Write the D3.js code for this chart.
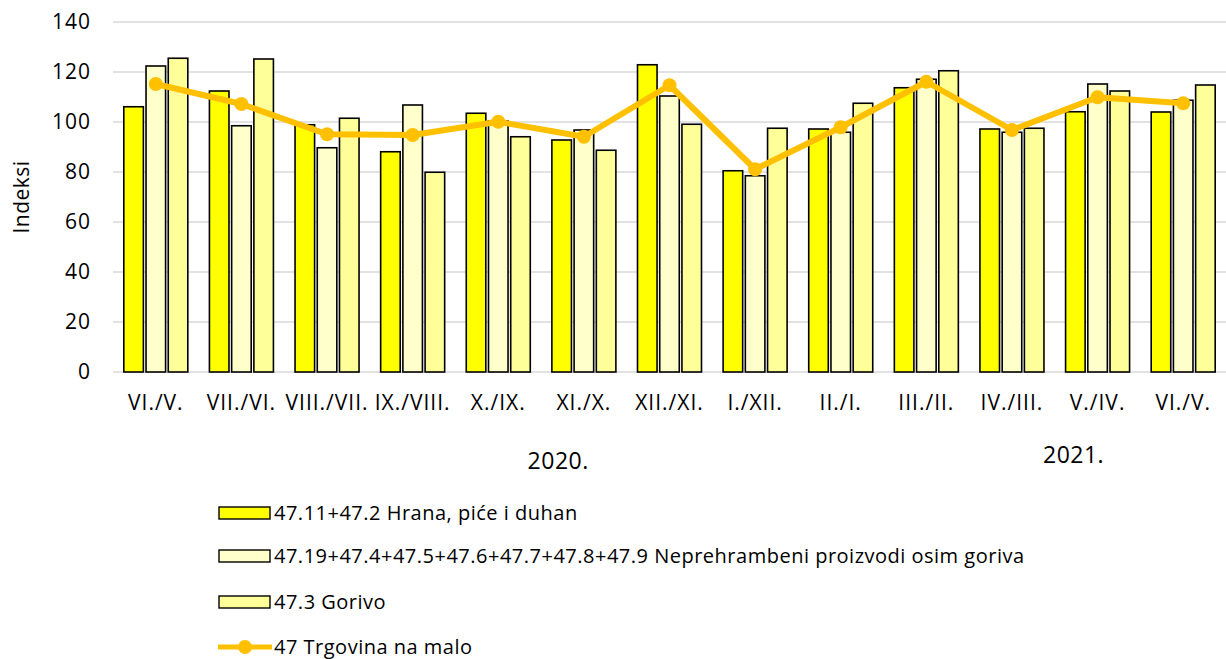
<!DOCTYPE html>
<html>
<head>
<meta charset="utf-8">
<script src="https://cdn.jsdelivr.net/npm/d3@7"></script>
<style>
  body { margin: 0; background: #fff; }
  text { font-family: "Open Sans", sans-serif; fill: #000; }
</style>
</head>
<body>
<div id="chart"></div>
<script>
// chart data
var categories = ['VI./V.', 'VII./VI.', 'VIII./VII.', 'IX./VIII.', 'X./IX.', 'XI./X.', 'XII./XI.',
                  'I./XII.', 'II./I.', 'III./II.', 'IV./III.', 'V./IV.', 'VI./V.'];
var hrana = [106.1, 112.4, 98.9, 88.1, 103.5, 92.8, 122.9, 80.5, 97.2, 113.7, 97.2, 104.1, 104.0];
var neprehrambeni = [122.4, 98.5, 89.7, 106.8, 100.5, 96.8, 110.4, 78.5, 95.9, 117.1, 95.9, 115.2, 108.7];
var gorivo = [125.5, 125.2, 101.5, 79.9, 94.1, 88.7, 99.1, 97.5, 107.5, 120.5, 97.5, 112.4, 114.8];
var trgovina = [115.2, 107.2, 95.1, 94.8, 100.1, 94.1, 114.7, 81.1, 97.9, 116.1, 96.8, 109.9, 107.5];
var yTicks = [0, 20, 40, 60, 80, 100, 120, 140];
var years = [{label: '2020.', at: 5.2, dy: 97}, {label: '2021.', at: 11.22, dy: 91}];

var seriesNames = ['47.11+47.2 Hrana, piće i duhan',
                   '47.19+47.4+47.5+47.6+47.7+47.8+47.9 Neprehrambeni proizvodi osim goriva',
                   '47.3 Gorivo',
                   '47 Trgovina na malo'];
var barColors = ['#ffff00', '#ffffcc', '#ffff99'];
var lineColor = '#ffc000';

var svgWidth = 1226;
var svgHeight = 659;
var margin = { top: 22, right: 0, bottom: 287, left: 113 };
var chartWidth = svgWidth - margin.left - margin.right;
var chartHeight = svgHeight - margin.top - margin.bottom;

var svg = d3.select('#chart')
  .append('svg')
  .attr('width', svgWidth)
  .attr('height', svgHeight);

var chartGroup = svg.append('g')
  .attr('transform', `translate(${margin.left}, ${margin.top})`);

var xScale = d3.scaleBand()
  .domain(d3.range(categories.length))
  .range([0, chartWidth]);

var x1 = d3.scaleBand()
  .domain([0, 1, 2])
  .range([-32, 32])
  .paddingInner(0.12);

var yScale = d3.scaleLinear()
  .domain([0, 140])
  .range([chartHeight, 0]);

// gridlines
chartGroup.selectAll('.grid')
  .data(yTicks)
  .enter()
  .append('line')
  .attr('x1', 0)
  .attr('x2', chartWidth)
  .attr('y1', d => yScale(d))
  .attr('y2', d => yScale(d))
  .attr('stroke', '#d9d9d9')
  .attr('stroke-width', 1.5);

// y axis labels
var yAxis = d3.axisLeft(yScale).tickValues(yTicks).tickSize(0).tickPadding(22);
var yAxisG = chartGroup.append('g').call(yAxis);
yAxisG.select('.domain').remove();
yAxisG.selectAll('text')
  .style('font-size', '21px')
  .style('letter-spacing', '1px')
  .style('font-family', '"Open Sans", sans-serif');

// x axis labels
var xAxis = d3.axisBottom(xScale).tickFormat(i => categories[i]).tickSize(0).tickPadding(23);
var xAxisG = chartGroup.append('g')
  .attr('transform', `translate(0, ${chartHeight})`)
  .call(xAxis);
xAxisG.select('.domain').remove();
xAxisG.selectAll('text')
  .style('font-size', '21px')
  .style('letter-spacing', '1px')
  .style('font-family', '"Open Sans", sans-serif');

// bars
var barSeries = [hrana, neprehrambeni, gorivo];
barSeries.forEach(function(values, s) {
  chartGroup.selectAll('.bar' + s)
    .data(values)
    .enter()
    .append('rect')
    .attr('x', (d, i) => xScale(i) + xScale.bandwidth() / 2 + x1(s))
    .attr('y', d => yScale(d))
    .attr('width', x1.bandwidth())
    .attr('height', d => chartHeight - yScale(d))
    .attr('fill', barColors[s])
    .attr('stroke', '#000')
    .attr('stroke-width', 1.6);
});

// line
var line = d3.line()
  .x((d, i) => xScale(i) + xScale.bandwidth() / 2)
  .y(d => yScale(d));

chartGroup.append('path')
  .datum(trgovina)
  .attr('d', line)
  .attr('fill', 'none')
  .attr('stroke', lineColor)
  .attr('stroke-width', 6)
  .attr('stroke-linejoin', 'round');

chartGroup.selectAll('.dot')
  .data(trgovina)
  .enter()
  .append('circle')
  .attr('cx', (d, i) => xScale(i) + xScale.bandwidth() / 2)
  .attr('cy', d => yScale(d))
  .attr('r', 7)
  .attr('fill', lineColor);

// years
chartGroup.selectAll('.year')
  .data(years)
  .enter()
  .append('text')
  .attr('x', d => xScale.step() * d.at)
  .attr('y', d => chartHeight + d.dy)
  .attr('text-anchor', 'middle')
  .style('font-size', '23px')
  .style('letter-spacing', '0.5px')
  .text(d => d.label);

// y title
svg.append('text')
  .attr('transform', `translate(29, ${margin.top + chartHeight / 2}) rotate(-90)`)
  .attr('text-anchor', 'middle')
  .style('font-size', '21px')
  .style('letter-spacing', '0.5px')
  .text('Indeksi');

// legend
var legend = svg.append('g').attr('transform', 'translate(218, 0)');
var legendY = [513, 556, 602, 647];
seriesNames.forEach(function(name, s) {
  var g = legend.append('g').attr('transform', `translate(0, ${legendY[s]})`);
  if (s < 3) {
    g.append('rect')
      .attr('x', 1)
      .attr('y', -6)
      .attr('width', 51)
      .attr('height', 12)
      .attr('fill', barColors[s])
      .attr('stroke', '#000')
      .attr('stroke-width', 1.4);
  } else {
    g.append('line')
      .attr('x1', 0).attr('x2', 54)
      .attr('y1', 0).attr('y2', 0)
      .attr('stroke', lineColor)
      .attr('stroke-width', 5);
    g.append('circle')
      .attr('cx', 27).attr('cy', 0).attr('r', 7)
      .attr('fill', lineColor);
  }
  g.append('text')
    .attr('x', 56)
    .attr('y', 7)
    .style('font-size', '20px')
    .style('letter-spacing', '0.5px')
    .text(name);
});
</script>
</body>
</html>
